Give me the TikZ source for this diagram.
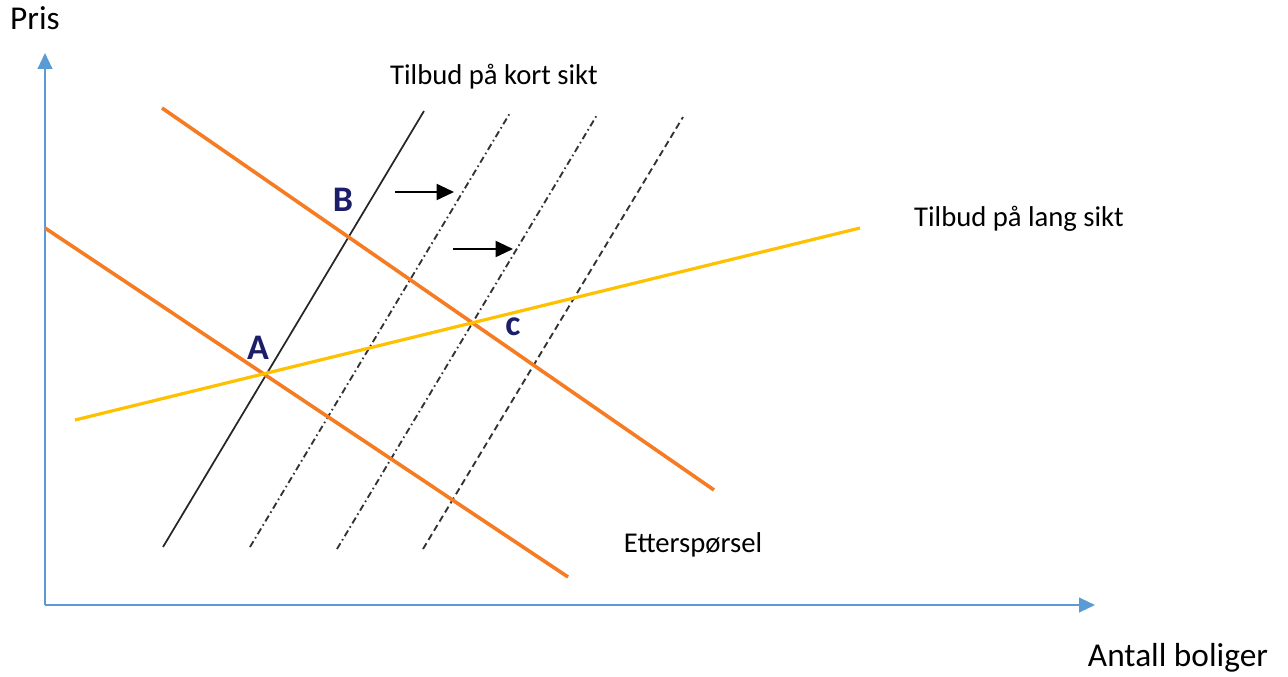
\documentclass[tikz,border=0pt]{standalone}
\usepackage{fontspec}
\setmainfont{Carlito}
\usetikzlibrary{arrows.meta}
\definecolor{axisblue}{HTML}{5B9BD5}
\definecolor{dorange}{HTML}{F57C22}
\definecolor{lyellow}{HTML}{FFC000}
\definecolor{navy}{RGB}{28,30,105}
\tikzset{
  axisline/.style={draw=axisblue, line width=1.7pt, -{Triangle[length=12pt,width=11pt]}},
  demand/.style={draw=dorange, line width=2.7pt},
  longrun/.style={draw=lyellow, line width=2.4pt},
  shortrun/.style={draw=black!85, line width=1.3pt},
  dashdot/.style={draw=black!80, line width=1.4pt, dash pattern=on 5pt off 2.5pt on 1.2pt off 2.5pt},
  dashline/.style={draw=black!80, line width=1.4pt, dash pattern=on 5pt off 3pt},
  shiftarrow/.style={draw=black, line width=1.4pt, -{Triangle[length=13pt,width=12pt]}},
  txt/.style={inner sep=0pt, font=\fontsize{21.5pt}{24pt}\selectfont},
  axtxt/.style={inner sep=0pt, font=\fontsize{25pt}{28pt}\selectfont},
  pt/.style={inner sep=0pt, text=navy, font=\fontsize{27pt}{30pt}\selectfont\bfseries}
}
\begin{document}
\begin{tikzpicture}[x=0.75pt,y=-0.75pt]
\useasboundingbox (0,0) rectangle (1288,677);
% axes
\coordinate (O) at (45,605);
\coordinate (ytip) at (45,53);
\coordinate (xtip) at (1095,605);
\draw[axisline] (O) -- (ytip);
\draw[axisline] (O) -- (xtip);
% short-run supply lines
\coordinate (s0a) at (163,547); \coordinate (s0b) at (424,111);
\coordinate (s1a) at (250,547); \coordinate (s1b) at (510,113);
\coordinate (s2a) at (337,549); \coordinate (s2b) at (597,115);
\coordinate (s3a) at (423,549); \coordinate (s3b) at (683,117);
\draw[shortrun] (s0a) -- (s0b);
\draw[dashdot] (s1a) -- (s1b);
\draw[dashdot] (s2a) -- (s2b);
\draw[dashline] (s3a) -- (s3b);
% demand lines
\coordinate (d1a) at (45,228); \coordinate (d1b) at (568,577);
\coordinate (d2a) at (162,108); \coordinate (d2b) at (714,490);
\draw[demand] (d1a) -- (d1b);
\draw[demand] (d2a) -- (d2b);
% long-run supply
\coordinate (la) at (75,420); \coordinate (lb) at (860,228);
\draw[longrun] (la) -- (lb);
% shift arrows
\coordinate (a1s) at (395,192); \coordinate (a1e) at (454,192);
\coordinate (a2s) at (453,249); \coordinate (a2e) at (513,249);
\draw[shiftarrow] (a1s) -- (a1e);
\draw[shiftarrow] (a2s) -- (a2e);
% point labels
\node[pt] (lblA) at (258,348) {A};
\node[pt] (lblB) at (343,200) {B};
\node[pt] (lblC) at (513,327) {c};
% texts
\node[axtxt] (pris) at (35,18) {Pris};
\node[axtxt] (antall) at (1178,658) {Antall boliger};
\node[txt] (kort) at (494,77) {Tilbud på kort sikt};
\node[txt] (lang) at (1019,219) {Tilbud på lang sikt};
\node[txt] (ettersp) at (693,545) {Etterspørsel};
\end{tikzpicture}
\end{document}
